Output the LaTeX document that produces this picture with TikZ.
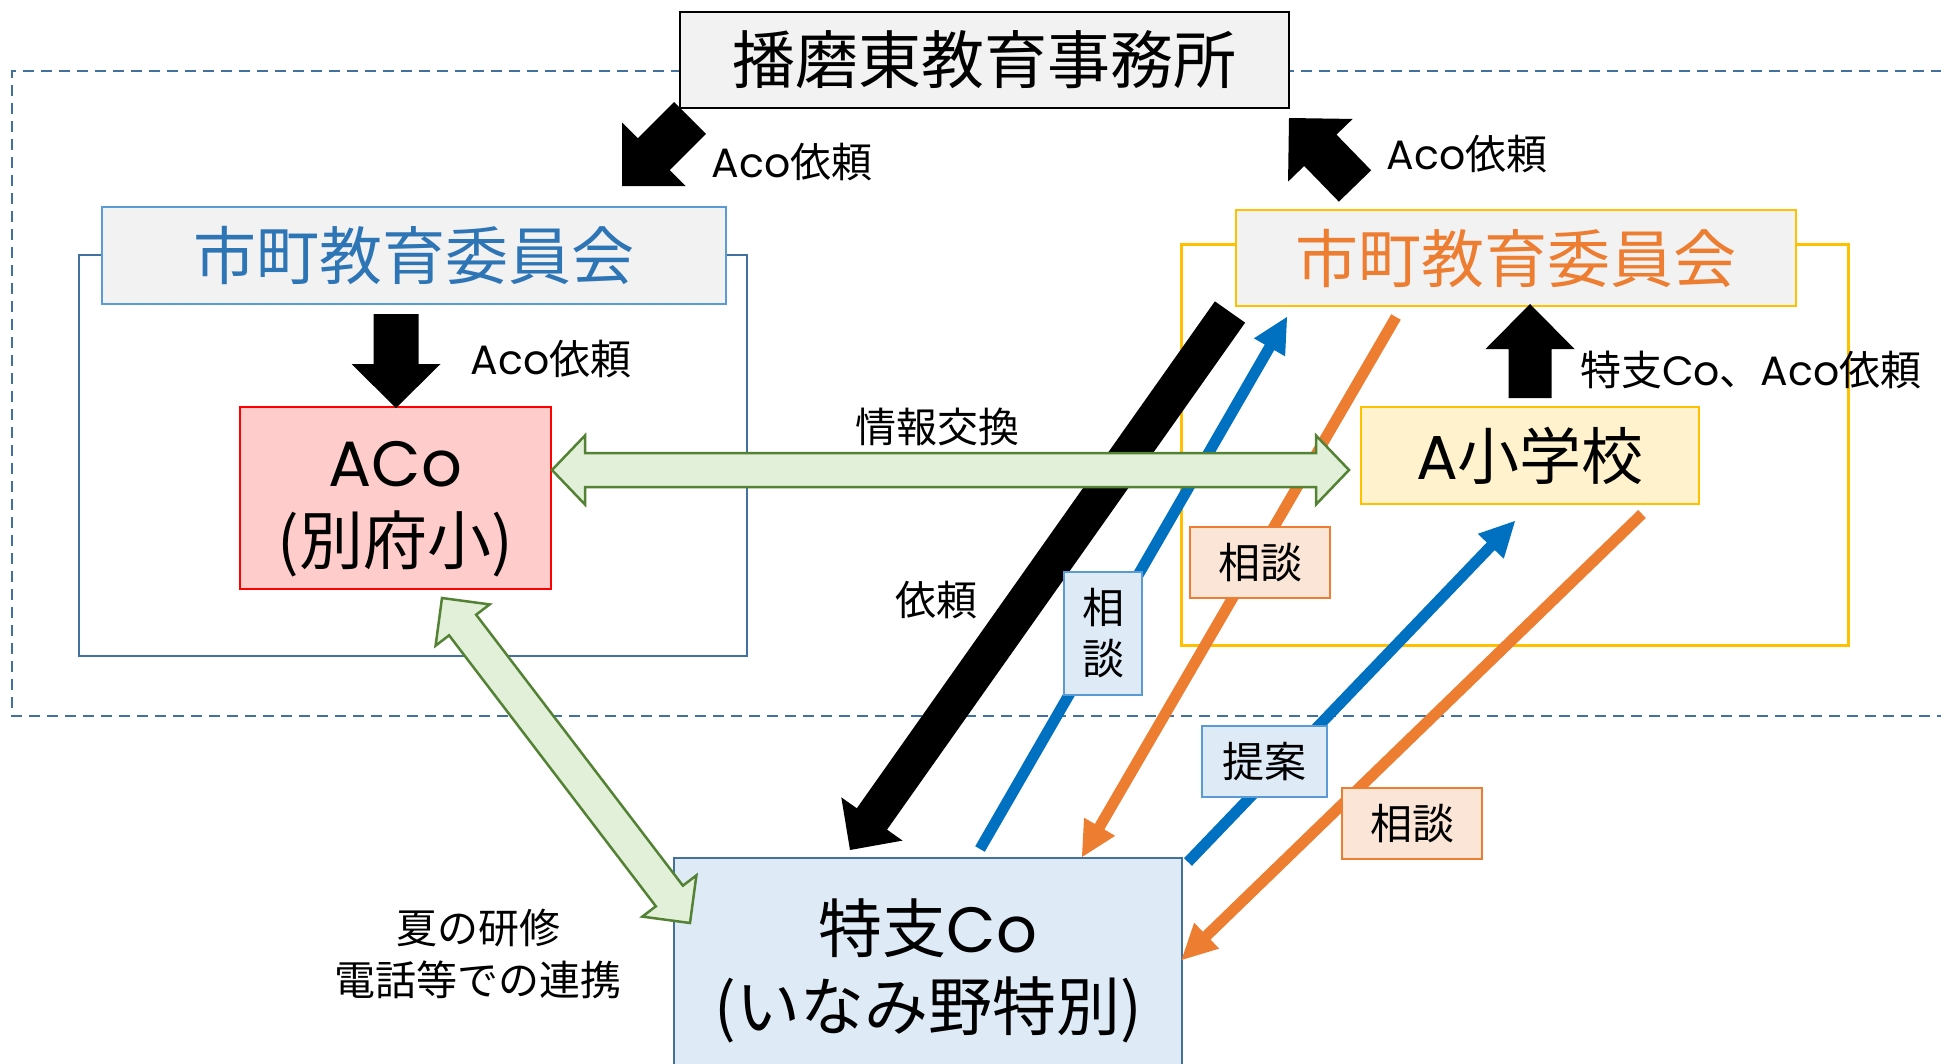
\documentclass[tikz,border=0pt]{standalone}
\usepackage{fontspec}
\setmainfont{Noto Sans CJK JP}
\newfontfamily\latfont{Poppins}
\usetikzlibrary{calc}
\definecolor{frameblue}{HTML}{41719C}
\definecolor{hdrblue}{HTML}{5B9BD5}
\definecolor{txtblue}{HTML}{2E75B6}
\definecolor{boxgray}{HTML}{F2F2F2}
\definecolor{gold}{HTML}{FFC000}
\definecolor{orng}{HTML}{ED7D31}
\definecolor{pinkfill}{HTML}{FFCCCC}
\definecolor{yelfill}{HTML}{FFF2CC}
\definecolor{bluefill}{HTML}{DEEBF7}
\definecolor{orfill}{HTML}{FBE5D6}
\definecolor{grnline}{HTML}{548235}
\definecolor{grnfill}{HTML}{E2F0D9}
\definecolor{arrblue}{HTML}{0070C0}
% single block arrow: #1 style, #2 tail, #3 tip, #4 shaft half width, #5 head half width, #6 head length
\newcommand\blkarrow[6]{%
  \coordinate (#2-#3-c) at ($(#3)!#6!(#2)$);
  \path[#1] ($(#2)!#4!90:(#3)$) -- ($(#2-#3-c)!#4!-90:(#2)$) -- ($(#2-#3-c)!#5!-90:(#2)$) -- (#3)
    -- ($(#2-#3-c)!#5!90:(#2)$) -- ($(#2-#3-c)!#4!90:(#2)$) -- ($(#2)!#4!-90:(#3)$) -- cycle;}
% double block arrow
\newcommand\dblarrow[6]{%
  \coordinate (#2-#3-ca) at ($(#2)!#6!(#3)$);
  \coordinate (#2-#3-cb) at ($(#3)!#6!(#2)$);
  \path[#1] (#2) -- ($(#2-#3-ca)!#5!90:(#3)$) -- ($(#2-#3-ca)!#4!90:(#3)$)
    -- ($(#2-#3-cb)!#4!-90:(#2)$) -- ($(#2-#3-cb)!#5!-90:(#2)$) -- (#3)
    -- ($(#2-#3-cb)!#5!90:(#2)$) -- ($(#2-#3-cb)!#4!90:(#2)$)
    -- ($(#2-#3-ca)!#4!-90:(#3)$) -- ($(#2-#3-ca)!#5!-90:(#3)$) -- cycle;}
\newcommand\lt[1]{{\latfont #1}}
\begin{document}
\begin{tikzpicture}[x=1pt,y=-1pt,
  every node/.style={inner sep=0pt, outer sep=0pt},
  frame/.style={draw=frameblue, line width=2.5pt, dash pattern=on 11pt off 7pt},
  bigfont/.style={font=\fontsize{63}{78}\selectfont},
  labfont/.style={font=\fontsize{41}{52}\selectfont},
  titlebox/.style={draw=black, fill=boxgray, line width=2pt, bigfont},
  outerL/.style={draw=frameblue, line width=2.5pt},
  outerR/.style={draw=gold, line width=3pt},
  hdrL/.style={draw=hdrblue, fill=boxgray, line width=2pt, bigfont, text=txtblue},
  hdrR/.style={draw=gold, fill=boxgray, line width=2pt, bigfont, text=orng},
  acobox/.style={draw=red, fill=pinkfill, line width=2.5pt},
  schbox/.style={draw=gold, fill=yelfill, line width=2.5pt, font=\fontsize{62}{78}\selectfont},
  tokbox/.style={draw=frameblue, fill=bluefill, line width=2.5pt},
  boxtext/.style={align=center, font=\fontsize{64}{78}\selectfont},
  blbox/.style={draw=hdrblue, fill=bluefill, line width=2pt, align=center, font=\fontsize{42}{51}\selectfont},
  orbox/.style={draw=orng, fill=orfill, line width=2pt, align=center, font=\fontsize{42}{51}\selectfont},
  blackarr/.style={fill=black},
  bluearr/.style={fill=arrblue},
  orarr/.style={fill=orng},
  greenarr/.style={draw=grnline, fill=grnfill, line width=2.5pt, line join=miter}
]
\useasboundingbox (0,0) rectangle (1941,1063);
\fill[white] (0,0) rectangle (1941,1063);

% dashed region
\draw[frame] (1960,71) -- (12,71) -- (12,716) -- (1960,716);

% outer group boxes
\node[outerL, minimum width=668pt, minimum height=401pt] (outL) at (413,455.5) {};
\node[outerR, minimum width=667pt, minimum height=401pt] (outR) at (1514.5,444.5) {};

% headers
\node[titlebox, minimum width=609pt, minimum height=96pt] (title) at (984.5,60) {播磨東教育事務所};
\node[hdrL, minimum width=624pt, minimum height=97pt] (hL) at (414,255.5) {市町教育委員会};
\node[hdrR, minimum width=560pt, minimum height=96pt] (hR) at (1516,258) {市町教育委員会};

% content boxes
\node[acobox, minimum width=311pt, minimum height=182pt] (aco) at (395.5,498) {};
\node[boxtext] (acotxt) at (395.5,509) {\lt{ACo}\\(別府小)};
\node[schbox, minimum width=338pt, minimum height=97pt] (asch) at (1530,455.5) {\lt{A}小学校};
\node[tokbox, minimum width=508pt, minimum height=217pt] (tok) at (928,966.5) {};
\node[boxtext] (toktxt) at (928,971) {特支\lt{Co}\\(いなみ野特別)};

% arrow end points
\coordinate (tla) at (690,118);   \coordinate (tlb) at (622,186);
\coordinate (tra) at (1355,186);  \coordinate (trb) at (1289,118);
\coordinate (vla) at (396,314);   \coordinate (vlb) at (396,408);
\coordinate (vra) at (1530,398);  \coordinate (vrb) at (1530,304);
\coordinate (bka) at (1230,312);  \coordinate (bkb) at (850,850);
\coordinate (b1a) at (980,849);   \coordinate (b1b) at (1287,317);
\coordinate (o1a) at (1396,317);  \coordinate (o1b) at (1082,857);
\coordinate (b2a) at (1188,862);  \coordinate (b2b) at (1515,521);
\coordinate (o2a) at (1642,514);  \coordinate (o2b) at (1181.5,960);
\coordinate (gha) at (552,470);   \coordinate (ghb) at (1349,470);
\coordinate (gda) at (442,598);   \coordinate (gdb) at (690,923);

% black block arrows
\blkarrow{blackarr}{tla}{tlb}{22.5pt}{45pt}{45pt}
\blkarrow{blackarr}{tra}{trb}{22.5pt}{45pt}{45pt}
\blkarrow{blackarr}{vla}{vlb}{22.5pt}{44.5pt}{44pt}
\blkarrow{blackarr}{vra}{vrb}{21.5pt}{44.5pt}{45pt}
\blkarrow{blackarr}{bka}{bkb}{18.5pt}{37.5pt}{38pt}

% thin arrows
\blkarrow{bluearr}{b1a}{b1b}{5.5pt}{18pt}{35pt}
\blkarrow{orarr}{o1a}{o1b}{5.5pt}{18pt}{35pt}
\blkarrow{bluearr}{b2a}{b2b}{5.5pt}{18pt}{35pt}
\blkarrow{orarr}{o2a}{o2b}{5.5pt}{18pt}{35pt}

% green double arrows
\dblarrow{greenarr}{gha}{ghb}{17pt}{34.5pt}{33pt}
\dblarrow{greenarr}{gda}{gdb}{17pt}{34pt}{34pt}

% label boxes
\node[blbox, minimum width=78pt, minimum height=123pt] (s1) at (1103,633.5) {相\\談};
\node[orbox, minimum width=140pt, minimum height=71pt] (s2) at (1260,562.5) {相談};
\node[blbox, minimum width=125pt, minimum height=71pt] (tei) at (1264.5,761.5) {提案};
\node[orbox, minimum width=140pt, minimum height=71pt] (s3) at (1412,823.5) {相談};

% text labels
\node[labfont] (l1) at (792,162) {\lt{Aco}依頼};
\node[labfont] (l2) at (1467,154) {\lt{Aco}依頼};
\node[labfont] (l3) at (551,359) {\lt{Aco}依頼};
\node[labfont, anchor=west] (l4) at (1580,370) {特支\lt{Co}、\lt{Aco}依頼};
\node[labfont] (l5) at (937,427) {情報交換};
\node[labfont] (l6) at (936,600) {依頼};
\node[labfont, align=center] (l7) at (478,954) {夏の研修\\電話等での連携};
\end{tikzpicture}
\end{document}
